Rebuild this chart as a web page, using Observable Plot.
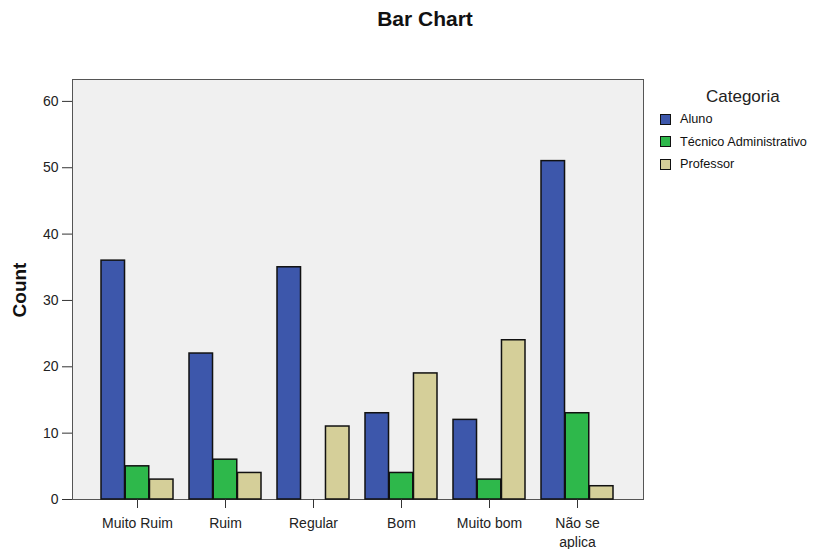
<!DOCTYPE html>
<html>
<head>
<meta charset="utf-8">
<script src="https://cdn.jsdelivr.net/npm/d3@7"></script>
<script src="https://cdn.jsdelivr.net/npm/@observablehq/plot@0.6"></script>
<style>
  body { margin: 0; background: #fff; font-family: "Liberation Sans", Arial, sans-serif; }
  #wrap { position: relative; width: 834px; height: 549px; overflow: hidden; }
  #chart { position: absolute; left: 0; top: 0; }
  #title { position: absolute; left: 0; width: 850px; top: 7px; text-align: center; font-size: 21px; font-weight: bold; color: #111; }
  #ylabel { position: absolute; left: 20px; top: 290px; transform: translate(-50%, -50%) rotate(-90deg); font-size: 19px; font-weight: bold; color: #111; white-space: nowrap; }
  #legend { position: absolute; left: 660px; top: 87px; font-size: 12.7px; color: #111; }
  #legend .lt { font-size: 17px; margin-left: 46px; margin-bottom: 1px; color: #222; }
  #legend .row { display: flex; align-items: center; height: 22.5px; }
  #legend .sw { width: 9px; height: 9px; border: 1.5px solid #111; margin-right: 9px; }
</style>
</head>
<body>
<div id="wrap">
  <div id="chart"></div>
  <div id="title">Bar Chart</div>
  <div id="ylabel">Count</div>
  <div id="legend"></div>
</div>
<script>
const categories = ["Muito Ruim", "Ruim", "Regular", "Bom", "Muito bom", "Não se aplica"];
const series = ["Aluno", "Técnico Administrativo", "Professor"];
const colors = ["#3d57ab", "#2eb84b", "#d5cf99"];
const aluno = [36, 22, 35, 13, 12, 51];
const tecnico = [5, 6, 0, 4, 3, 13];
const professor = [3, 4, 11, 19, 24, 2];
const yTicks = [0, 10, 20, 30, 40, 50, 60];
const legendTitle = "Categoria";

const W = 834, H = 549, mL = 72, mR = 191, mT = 79, mB = 50;
const xOpts = {type: "band", domain: categories, paddingInner: 0.177, paddingOuter: 0.32};
const bw = Plot.scale({x: {...xOpts, range: [mL, W - mR]}}).bandwidth;

const values = [aluno, tecnico, professor];
const data = [];
categories.forEach((c, i) => series.forEach((s, j) => data.push({cat: c, series: s, idx: j, count: values[j][i]})));

const barMarks = series.map((s, j) =>
  Plot.barY(data.filter(d => d.series === s && d.count > 0), {
    x: "cat", y: "count", fill: "series", stroke: "#111", strokeWidth: 1.5,
    insetLeft: j * bw / series.length, insetRight: (series.length - 1 - j) * bw / series.length
  })
);

const chart = Plot.plot({
  width: W,
  height: H,
  marginTop: mT,
  marginBottom: mB,
  marginLeft: mL,
  marginRight: mR,
  style: {fontFamily: '"Liberation Sans", Arial, sans-serif', fontSize: "14px", color: "#222", background: "transparent"},
  x: {...xOpts, axis: null},
  y: {domain: [0, 63.3], axis: null},
  color: {domain: series, range: colors},
  marks: [
    Plot.frame({fill: "#f0f0f0", stroke: "#555", strokeWidth: 1}),
    ...barMarks,
    Plot.axisY({ticks: yTicks, tickSize: 10, tickPadding: 4, label: null, stroke: "#333", fontSize: 14}),
    Plot.axisX({tickSize: 9, tickPadding: 6, label: null, fontSize: 14, lineHeight: 1.36, stroke: "#333",
      tickFormat: d => d === "Não se aplica" ? "Não se\naplica" : d})
  ]
});
document.getElementById("chart").appendChild(chart);

const color = chart.scale("color");
const lg = document.getElementById("legend");
const t = document.createElement("div"); t.className = "lt"; t.textContent = legendTitle; lg.appendChild(t);
series.forEach(s => {
  const r = document.createElement("div"); r.className = "row";
  const sw = document.createElement("div"); sw.className = "sw"; sw.style.background = color.apply(s);
  const tx = document.createElement("span"); tx.textContent = s;
  r.appendChild(sw); r.appendChild(tx); lg.appendChild(r);
});
</script>
</body>
</html>
